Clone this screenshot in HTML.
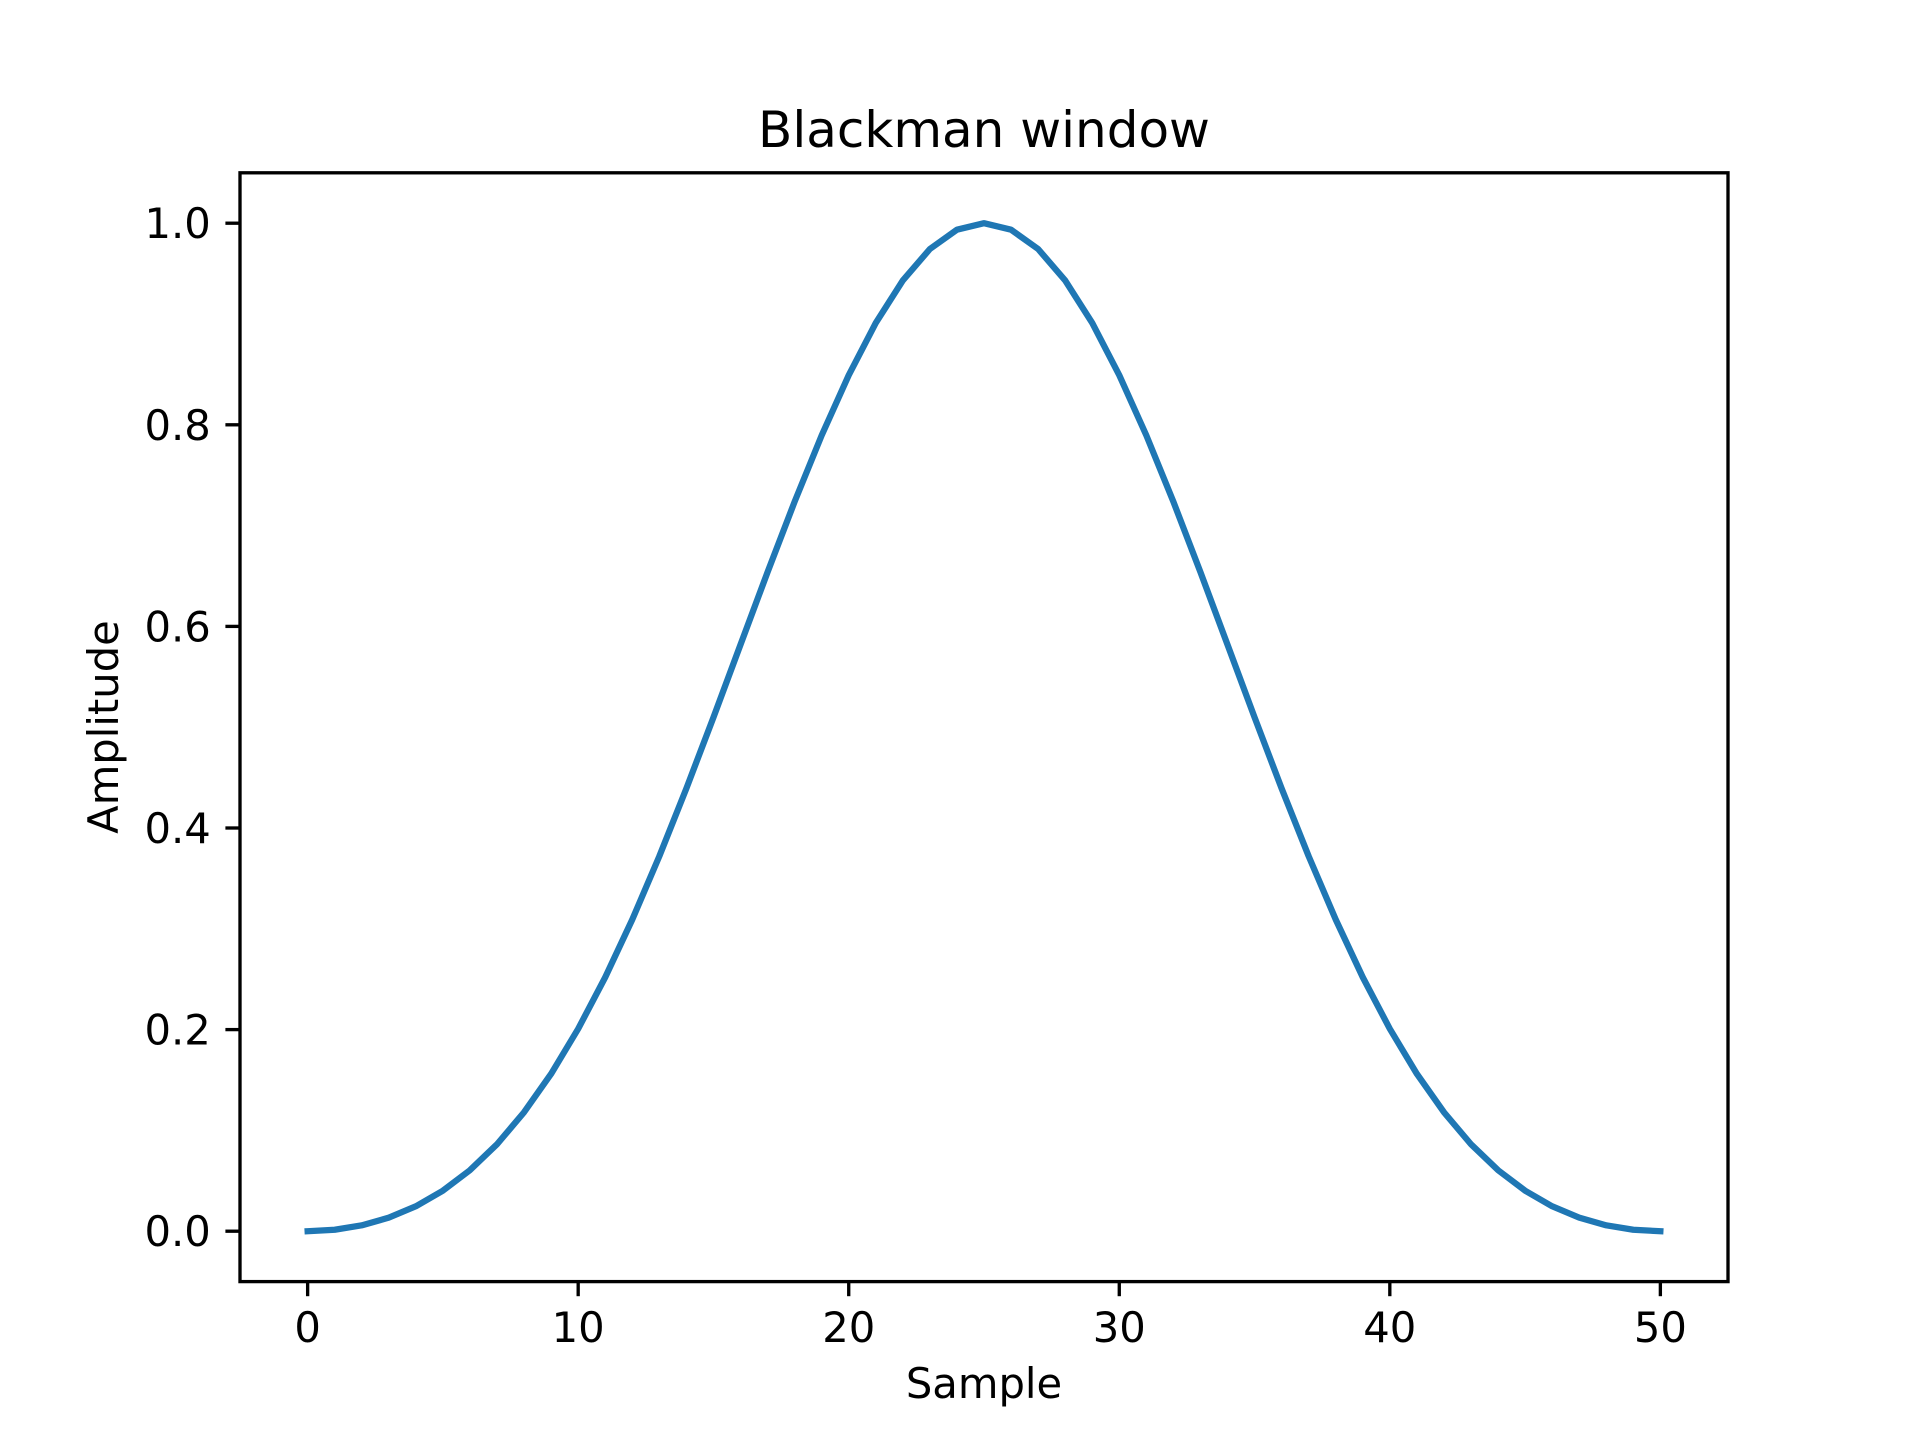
<!DOCTYPE html>
<html><head><meta charset="utf-8"><style>
body{margin:0;background:#fff}
svg text{font-family:"DejaVu Sans","Liberation Sans",sans-serif;fill:#000}
</style></head><body>
<svg id="chart" width="1920" height="1440" viewBox="0 0 1920 1440" xmlns="http://www.w3.org/2000/svg">
<rect width="1920" height="1440" fill="#fff"/>
<text x="984" y="147" font-size="50" text-anchor="middle">Blackman window</text>
<g id="ticks"></g>
<path id="series" fill="none" stroke="#1f77b4" stroke-width="6.25" stroke-linejoin="round" stroke-linecap="square"/>
<rect x="240" y="172.8" width="1488" height="1108.8" fill="none" stroke="#000" stroke-width="3.33"/>
<text x="984" y="1398" font-size="41.7" text-anchor="middle">Sample</text>
<text x="118" y="727" font-size="41.7" text-anchor="middle" transform="rotate(-90 118 727)">Amplitude</text>
</svg>
<script>
const halfValues = [0,0.00143,0.005815,0.013428,0.024713,0.040211,0.060539,0.0863,0.118025,0.156116,0.200769,0.251927,0.309236,0.372026,0.439307,0.509789,0.581896,0.653851,0.72372,0.789507,0.849231,0.901019,0.943208,0.974395,0.993543,1.0];
const values = halfValues.concat(halfValues.slice(0,25).reverse());
const xTicks = [0,10,20,30,40,50];
const yTicks = [0.0,0.2,0.4,0.6,0.8,1.0];
const L=240,R=1728,T=172.8,B=1281.6;
const xs = v => L + (v+2.5)/55*(R-L);
const ys = v => B - (v+0.05)/1.1*(B-T);
const ns="http://www.w3.org/2000/svg";
const g=document.getElementById('ticks');
xTicks.forEach(t=>{
  const l=document.createElementNS(ns,'line');
  
  
  l.setAttribute('x1',xs(t));l.setAttribute('x2',xs(t));l.setAttribute('y1',B);l.setAttribute('y2',B+14.6);
  l.setAttribute('stroke','#000');l.setAttribute('stroke-width','3.33');g.appendChild(l);
  const tx=document.createElementNS(ns,'text');
  
  
  tx.setAttribute('x',xs(t));tx.setAttribute('y',B+14.6+14.6+31);tx.setAttribute('font-size','41.7');tx.setAttribute('text-anchor','middle');
  tx.textContent=t;g.appendChild(tx);
});
yTicks.forEach(t=>{
  const l=document.createElementNS(ns,'line');
  
  
  l.setAttribute('x1',L-14.6);l.setAttribute('x2',L);l.setAttribute('y1',ys(t));l.setAttribute('y2',ys(t));
  l.setAttribute('stroke','#000');l.setAttribute('stroke-width','3.33');g.appendChild(l);
  const tx=document.createElementNS(ns,'text');
  
  
  tx.setAttribute('x',L-14.6-14.6);tx.setAttribute('y',ys(t)+15);tx.setAttribute('font-size','41.7');tx.setAttribute('text-anchor','end');
  tx.textContent=t.toFixed(1);g.appendChild(tx);
});
document.getElementById('series').setAttribute('d',values.map((v,i)=>(i?'L':'M')+xs(i).toFixed(2)+' '+ys(v).toFixed(2)).join(' '));
</script>
</body></html>
